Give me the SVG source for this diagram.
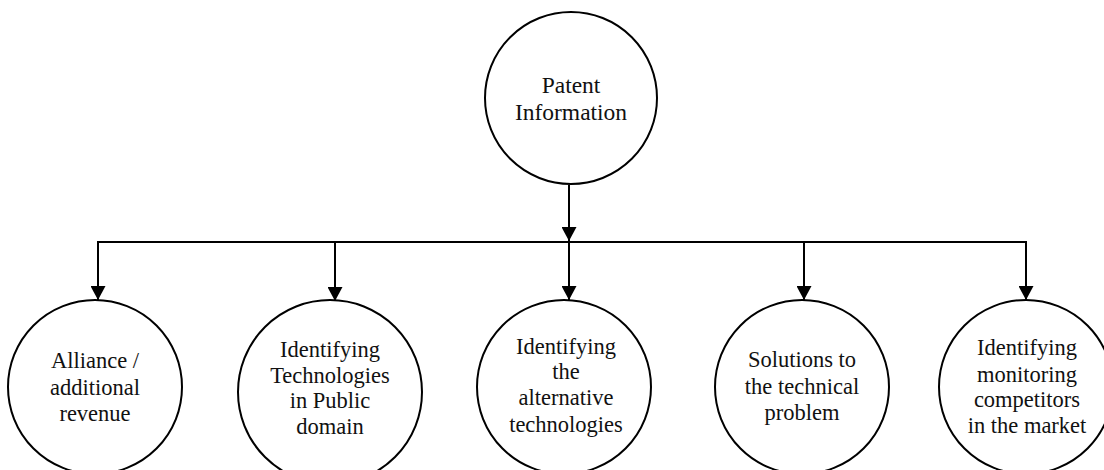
<svg xmlns="http://www.w3.org/2000/svg" width="1104" height="470" viewBox="0 0 1104 470">
<style>
.n{fill:#fff;stroke:#000;stroke-width:2}
.c{fill:none;stroke:#000;stroke-width:2}
text{font-family:"Liberation Serif","Times New Roman",serif;font-size:22.5px;fill:#111;text-anchor:middle}
</style>
<defs>
<marker id="ah" markerWidth="14" markerHeight="15" refX="14" refY="7.5" orient="auto" markerUnits="userSpaceOnUse">
<path d="M0,0 L14,7.5 L0,15 Z" fill="#000"/>
</marker>
</defs>
<g id="connectors">
<line class="c" x1="569" y1="185" x2="569" y2="241" marker-end="url(#ah)"/>
<polyline class="c" points="98,300 98,242 1026,242 1026,300" marker-end="url(#ah)"/>
<line class="c" x1="98" y1="242" x2="98" y2="300" marker-end="url(#ah)"/>
<line class="c" x1="335" y1="242" x2="335" y2="301" marker-end="url(#ah)"/>
<line class="c" x1="569" y1="242" x2="569" y2="300" marker-end="url(#ah)"/>
<line class="c" x1="804" y1="242" x2="804" y2="300" marker-end="url(#ah)"/>
</g>
<g id="patent">
<circle class="n" cx="571" cy="98" r="86"/>
<text x="571" y="93" style="font-size:23.5px">Patent</text>
<text x="571" y="120" style="font-size:23.5px">Information</text>
</g>
<g id="alliance">
<circle class="n" cx="95" cy="387" r="87"/>
<text x="95" y="368">Alliance /</text>
<text x="95" y="395">additional</text>
<text x="95" y="421">revenue</text>
</g>
<g id="public">
<circle class="n" cx="330" cy="392" r="92"/>
<text x="330" y="357">Identifying</text>
<text x="330" y="383">Technologies</text>
<text x="330" y="408">in Public</text>
<text x="330" y="434">domain</text>
</g>
<g id="alternative">
<circle class="n" cx="564" cy="387" r="87"/>
<text x="566" y="354">Identifying</text>
<text x="566" y="379">the</text>
<text x="566" y="405">alternative</text>
<text x="566" y="432">technologies</text>
</g>
<g id="solutions">
<circle class="n" cx="802" cy="387" r="87"/>
<text x="802" y="367">Solutions to</text>
<text x="802" y="394">the technical</text>
<text x="802" y="420">problem</text>
</g>
<g id="competitors">
<circle class="n" cx="1026" cy="387" r="87"/>
<text x="1027" y="355">Identifying</text>
<text x="1027" y="382">monitoring</text>
<text x="1027" y="407">competitors</text>
<text x="1027" y="433">in the market</text>
</g>
</svg>
